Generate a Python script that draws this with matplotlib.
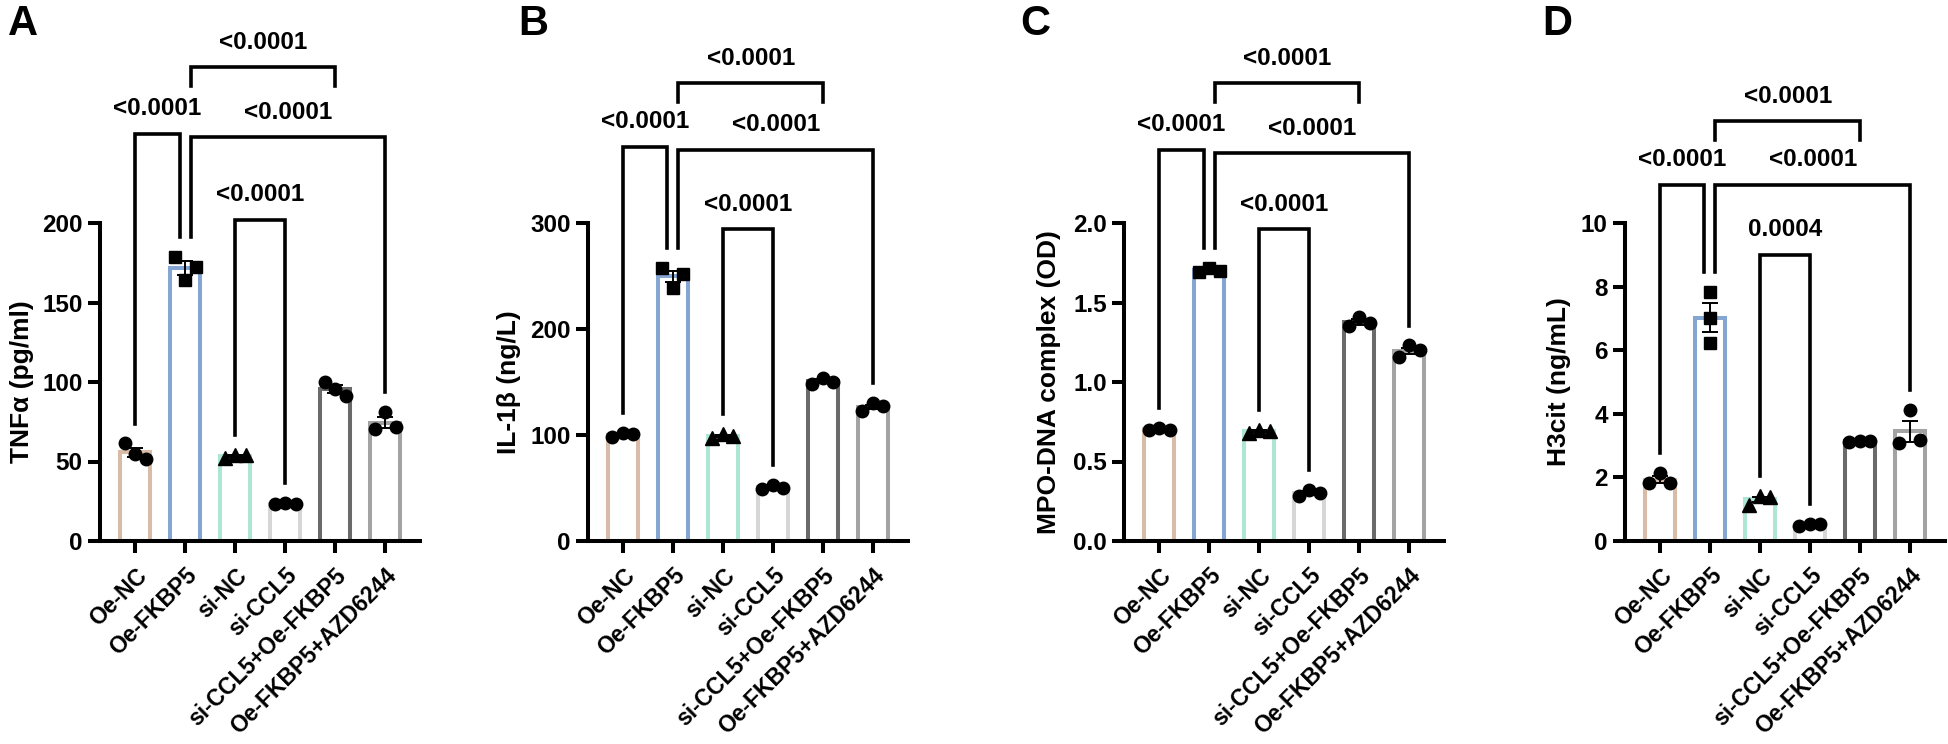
import numpy as np
import matplotlib
matplotlib.use('Agg')
import matplotlib.pyplot as plt

plt.rcParams['font.family'] = ['Liberation Sans', 'DejaVu Sans']
plt.rcParams['font.weight'] = 'bold'
plt.rcParams['axes.labelweight'] = 'bold'

# groups shared by all four panels
groups = ['Oe-NC', 'Oe-FKBP5', 'si-NC', 'si-CCL5', 'si-CCL5+Oe-FKBP5', 'Oe-FKBP5+AZD6244']
edge_colors = ['#D8BCA8', '#85A6D3', '#ADE6D4', '#D6D6D6', '#6A6A6A', '#A3A3A3']
markers = ['o', 's', '^', 'o', 'o', 'o']

# replicate values (n=3 per group, listed left to right)
tnf = [[61.4, 54.5, 51.4], [178.8, 172.1, 164.2], [52.5, 54.0, 54.0],
       [23.0, 24.0, 23.5], [100.2, 95.4, 91.2], [70.3, 81.3, 71.9]]
il1b = [[98, 102, 101], [257.6, 252.2, 238.8], [97, 101, 99],
        [49, 53, 50], [148, 154, 150], [123, 130, 127]]
mpo = [[0.70, 0.71, 0.70], [1.69, 1.72, 1.70], [0.68, 0.70, 0.69],
       [0.28, 0.32, 0.30], [1.35, 1.41, 1.37], [1.16, 1.23, 1.20]]
h3cit = [[1.81, 2.15, 1.83], [7.84, 7.00, 6.24], [1.13, 1.42, 1.37],
         [0.46, 0.55, 0.53], [3.10, 3.15, 3.15], [3.07, 4.12, 3.17]]

panel_data = [tnf, il1b, mpo, h3cit]
panel_letters = ['A', 'B', 'C', 'D']
ylabels = ['TNFα (pg/ml)', 'IL-1β (ng/L)', 'MPO-DNA complex (OD)', 'H3cit (ng/mL)']
yticks = [[0, 50, 100, 150, 200], [0, 100, 200, 300],
          [0.0, 0.5, 1.0, 1.5, 2.0], [0, 2, 4, 6, 8, 10]]
ytick_fmt = ['{:.0f}', '{:.0f}', '{:.1f}', '{:.0f}']

# multiple comparisons (group a, group b) and their p values
comparisons = [(0, 1), (1, 4), (1, 5), (2, 3)]
pvals = [['<0.0001', '<0.0001', '<0.0001', '<0.0001'],
         ['<0.0001', '<0.0001', '<0.0001', '<0.0001'],
         ['<0.0001', '<0.0001', '<0.0001', '<0.0001'],
         ['<0.0001', '<0.0001', '<0.0001', '0.0004']]

# layout: bracket heights as a fraction of the top tick, leg style
bracket_frac = [[1.28, 1.49, 1.27, 1.01],
                [1.24, 1.44, 1.23, 0.98],
                [1.23, 1.44, 1.22, 0.98],
                [1.12, 1.32, 1.12, 0.90]]
leg_mode = ['data', 'short', 'data', 'data']

W, H = 1949, 744
ax_left_px = [100, 588, 1124, 1625]
ax_w_px, ax_h_px = 320, 318
ax_bottom_px = 541
letter_x_px = [8, 518, 1020, 1542]
ylabel_x_px = [22, 509, 1049, 1559]

LW = 2.9
spread = 0.21


def swarm(vals, px_per_unit, diam=12.0):
    # points closer than one marker in y share a row and get spread sideways
    order = np.argsort(vals)
    rows, cur = [], [order[0]]
    for i in order[1:]:
        if (vals[i] - vals[cur[-1]]) * px_per_unit < diam:
            cur.append(i)
        else:
            rows.append(cur)
            cur = [i]
    rows.append(cur)
    offs = np.zeros(len(vals))
    for r in rows:
        r = sorted(r)
        if len(r) == 2:
            offs[r[0]], offs[r[1]] = -spread, spread
        elif len(r) >= 3:
            for k, i in enumerate(r):
                offs[i] = (k - (len(r) - 1) / 2) * spread
    return offs


fig = plt.figure(figsize=(W / 100, H / 100), dpi=100)

for p in range(4):
    data = panel_data[p]
    top = yticks[p][-1]
    ax = fig.add_axes([ax_left_px[p] / W, (H - ax_bottom_px) / H, ax_w_px / W, ax_h_px / H])
    x = np.arange(len(groups))
    means = [np.mean(v) for v in data]
    sems = [np.std(v, ddof=1) / np.sqrt(len(v)) for v in data]

    ax.bar(x, means, width=0.6, facecolor='white', edgecolor=edge_colors,
           linewidth=LW, zorder=1)
    ax.errorbar(x, means, yerr=sems, fmt='none', ecolor='black', elinewidth=1.4,
                capsize=5.5, capthick=1.4, zorder=3)
    ppu = ax_h_px / top
    for i, v in enumerate(data):
        offs = swarm(np.array(v, dtype=float), ppu)
        ax.plot(i + offs, v, linestyle='none', marker=markers[i], color='black',
                markersize=9 if markers[i] != '^' else 10, zorder=4, clip_on=False)

    ax.set_xlim(-0.7, 5.7)
    ax.set_ylim(0, top)
    ax.set_yticks(yticks[p])
    ax.set_yticklabels([ytick_fmt[p].format(t) for t in yticks[p]], fontsize=17.5)
    ax.set_xticks(x)
    ax.set_xticklabels(groups, rotation=45, ha='right', rotation_mode='anchor', fontsize=16.5)
    ax.tick_params(axis='both', width=LW, length=8.5)
    ax.tick_params(axis='x', pad=8)
    ax.tick_params(axis='y', pad=4)
    for s in ['top', 'right']:
        ax.spines[s].set_visible(False)
    for s in ['left', 'bottom']:
        ax.spines[s].set_linewidth(LW)
    ax.set_ylabel(ylabels[p], fontsize=19, fontweight='bold', va='center')
    ax.yaxis.set_label_coords((ylabel_x_px[p] - ax_left_px[p]) / ax_w_px, 0.5)

    # significance brackets
    gap = 0.062 * top
    for k, (a, b) in enumerate(comparisons):
        h = bracket_frac[p][k] * top
        xa = a + (0.11 if a == 1 else 0)
        xb = b - (0.11 if b == 1 else 0)
        if leg_mode[k] == 'data':
            ya = max(data[a]) + gap
            yb = max(data[b]) + gap
        else:
            ya = yb = h - 0.058 * top
        ax.plot([xa, xa, xb, xb], [ya, h, h, yb], color='black', lw=2.6,
                solid_joinstyle='miter', clip_on=False, zorder=5)
        ax.annotate(pvals[p][k], xy=((xa + xb) / 2, h), xytext=(0, 18),
                    textcoords='offset points', ha='center', va='center',
                    fontsize=17.5, fontweight='bold', annotation_clip=False)

    fig.text(letter_x_px[p] / W, 1 - 4 / H, panel_letters[p], fontsize=30,
             fontweight='bold', ha='left', va='top')

fig.savefig('out.png', dpi=100)
